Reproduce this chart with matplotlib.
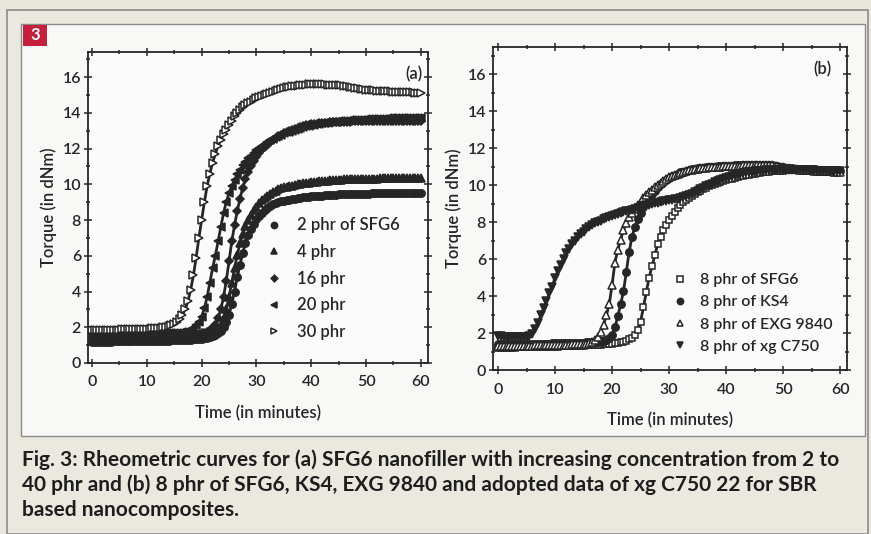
import numpy as np
import matplotlib
matplotlib.use("Agg")
import matplotlib.pyplot as plt
from matplotlib.patches import Rectangle
from matplotlib.ticker import MultipleLocator

plt.rcParams['font.family'] = ['Lato', 'DejaVu Sans']

# ---------------- data (time in minutes, torque in dNm) ----------------
time = np.arange(0, 60.01, 0.5)

# panel (a): SFG6 at increasing concentration
a_labels = ["2 phr of SFG6", "4 phr", "16 phr", "20 phr", "30 phr"]
a_2phr = [1.2,1.2,1.2,1.2,1.2,1.2,1.2,1.2,1.21,1.21,
          1.21,1.21,1.21,1.21,1.22,1.22,1.22,1.22,1.22,1.23,
          1.23,1.23,1.23,1.24,1.24,1.24,1.25,1.25,1.25,1.26,
          1.26,1.27,1.27,1.28,1.29,1.3,1.31,1.32,1.33,1.35,
          1.37,1.39,1.42,1.45,1.5,1.57,1.66,1.8,2.0,2.3,
          2.7,3.3,4.0,4.8,5.5,6.15,6.7,7.15,7.5,7.8,
          8.05,8.25,8.42,8.57,8.7,8.8,8.88,8.95,9.0,9.05,
          9.08,9.11,9.14,9.17,9.2,9.22,9.24,9.26,9.28,9.3,
          9.32,9.34,9.35,9.36,9.37,9.38,9.39,9.4,9.41,9.42,
          9.43,9.43,9.44,9.45,9.45,9.46,9.46,9.47,9.47,9.48,
          9.48,9.48,9.49,9.49,9.49,9.5,9.5,9.5,9.5,9.5,
          9.5,9.5,9.5,9.5,9.51,9.51,9.51,9.51,9.51,9.51,
          9.5]
a_4phr = [1.35,1.35,1.35,1.35,1.35,1.35,1.35,1.35,1.36,1.36,
          1.36,1.36,1.36,1.36,1.37,1.37,1.37,1.37,1.37,1.38,
          1.38,1.38,1.38,1.38,1.39,1.39,1.39,1.4,1.4,1.4,
          1.41,1.41,1.42,1.42,1.43,1.44,1.45,1.46,1.47,1.49,
          1.51,1.53,1.56,1.6,1.65,1.75,1.9,2.15,2.5,3.0,
          3.7,4.5,5.3,6.05,6.7,7.2,7.65,8.0,8.3,8.55,
          8.75,8.95,9.1,9.25,9.37,9.48,9.57,9.65,9.72,9.78,
          9.83,9.87,9.9,9.93,9.96,9.99,10.02,10.05,10.07,10.09,
          10.11,10.13,10.15,10.17,10.19,10.2,10.21,10.22,10.23,10.24,
          10.25,10.26,10.27,10.27,10.28,10.28,10.29,10.29,10.3,10.3,
          10.3,10.31,10.31,10.32,10.32,10.33,10.33,10.33,10.34,10.34,
          10.34,10.35,10.35,10.35,10.35,10.35,10.36,10.36,10.36,10.36,
          10.36]
a_16phr = [1.45,1.45,1.45,1.45,1.45,1.46,1.46,1.46,1.46,1.46,
           1.46,1.47,1.47,1.47,1.47,1.47,1.48,1.48,1.48,1.48,
           1.48,1.49,1.49,1.49,1.5,1.5,1.5,1.51,1.51,1.52,
           1.52,1.53,1.54,1.55,1.56,1.57,1.58,1.6,1.62,1.64,
           1.67,1.7,1.75,1.82,1.95,2.15,2.5,3.0,3.7,4.6,
           5.7,6.8,7.7,8.5,9.2,9.8,10.3,10.7,11.0,11.3,
           11.55,11.75,11.95,12.1,12.25,12.38,12.5,12.6,12.7,12.78,
           12.85,12.93,13.0,13.05,13.1,13.15,13.2,13.25,13.3,13.32,
           13.35,13.37,13.39,13.41,13.43,13.44,13.45,13.46,13.47,13.48,
           13.49,13.5,13.5,13.51,13.51,13.52,13.52,13.52,13.53,13.53,
           13.53,13.53,13.54,13.54,13.54,13.54,13.54,13.54,13.55,13.55,
           13.55,13.55,13.55,13.55,13.55,13.55,13.55,13.55,13.55,13.55,
           13.55]
a_20phr = [1.6,1.6,1.6,1.6,1.6,1.6,1.6,1.6,1.61,1.61,
           1.61,1.61,1.62,1.62,1.62,1.62,1.63,1.63,1.63,1.63,
           1.64,1.64,1.64,1.65,1.65,1.65,1.66,1.66,1.67,1.67,
           1.68,1.69,1.7,1.72,1.75,1.8,1.87,1.97,2.1,2.3,
           2.6,3.05,3.7,4.5,5.3,6.0,6.8,7.6,8.4,9.0,
           9.5,9.9,10.25,10.55,10.8,11.05,11.25,11.45,11.6,11.75,
           11.9,12.03,12.15,12.25,12.35,12.45,12.55,12.63,12.7,12.78,
           12.85,12.9,12.95,13.0,13.05,13.1,13.15,13.2,13.25,13.28,
           13.3,13.33,13.36,13.38,13.4,13.42,13.44,13.46,13.48,13.5,
           13.52,13.53,13.55,13.56,13.57,13.58,13.6,13.6,13.61,13.62,
           13.63,13.64,13.65,13.65,13.66,13.66,13.67,13.67,13.68,13.68,
           13.69,13.69,13.7,13.7,13.7,13.7,13.7,13.71,13.71,13.71,
           13.72]
a_30phr = [1.85,1.85,1.85,1.85,1.85,1.86,1.86,1.86,1.87,1.87,
           1.87,1.88,1.88,1.88,1.89,1.89,1.9,1.9,1.9,1.91,
           1.92,1.93,1.94,1.95,1.96,1.98,2.0,2.03,2.07,2.12,
           2.2,2.3,2.45,2.7,3.0,3.45,4.1,4.9,5.9,7.0,
           8.0,9.0,9.9,10.6,11.2,11.7,12.15,12.5,12.8,13.05,
           13.3,13.55,13.8,14.0,14.15,14.3,14.42,14.53,14.63,14.72,
           14.8,14.87,14.93,15.0,15.06,15.12,15.18,15.24,15.29,15.34,
           15.38,15.42,15.45,15.48,15.5,15.52,15.54,15.56,15.58,15.59,
           15.6,15.6,15.6,15.6,15.6,15.6,15.58,15.58,15.57,15.56,
           15.55,15.53,15.5,15.48,15.45,15.42,15.4,15.38,15.35,15.33,
           15.3,15.28,15.27,15.25,15.24,15.23,15.22,15.21,15.2,15.2,
           15.19,15.18,15.17,15.17,15.16,15.15,15.15,15.14,15.13,15.12,
           15.1]

# panel (b): 8 phr of different fillers
b_labels = ["8 phr of SFG6", "8 phr of KS4", "8 phr of EXG 9840", "8 phr of xg C750"]
b_sfg6 = [1.2,1.2,1.2,1.2,1.21,1.21,1.21,1.22,1.22,1.22,
          1.23,1.23,1.23,1.24,1.24,1.25,1.25,1.25,1.26,1.26,
          1.27,1.27,1.28,1.28,1.29,1.29,1.3,1.3,1.31,1.31,
          1.32,1.33,1.33,1.34,1.35,1.36,1.37,1.38,1.39,1.4,
          1.42,1.44,1.46,1.49,1.53,1.58,1.65,1.75,1.9,2.15,
          2.6,3.4,4.2,5.0,5.6,6.2,6.8,7.2,7.55,7.85,
          8.1,8.35,8.55,8.75,8.92,9.08,9.2,9.3,9.4,9.5,
          9.6,9.68,9.76,9.84,9.92,9.98,10.05,10.1,10.15,10.2,
          10.25,10.3,10.35,10.39,10.43,10.47,10.5,10.53,10.56,10.59,
          10.62,10.64,10.66,10.68,10.7,10.72,10.74,10.75,10.76,10.77,
          10.78,10.79,10.8,10.8,10.8,10.8,10.8,10.8,10.8,10.8,
          10.8,10.8,10.79,10.79,10.79,10.78,10.78,10.78,10.77,10.77,
          10.77]
b_ks4 = [1.4,1.4,1.4,1.4,1.4,1.4,1.41,1.41,1.41,1.41,
         1.41,1.42,1.42,1.42,1.42,1.43,1.43,1.43,1.43,1.44,
         1.44,1.44,1.45,1.45,1.45,1.46,1.46,1.47,1.47,1.48,
         1.48,1.49,1.5,1.51,1.52,1.54,1.56,1.58,1.63,1.72,
         1.9,2.3,2.9,3.55,4.25,5.3,6.4,7.2,7.75,8.15,
         8.5,8.8,9.05,9.3,9.5,9.7,9.88,10.03,10.16,10.28,
         10.38,10.47,10.55,10.62,10.68,10.73,10.78,10.82,10.85,10.88,
         10.9,10.92,10.94,10.96,10.98,10.99,11.0,11.01,11.02,11.03,
         11.04,11.05,11.05,11.06,11.06,11.07,11.07,11.08,11.08,11.08,
         11.09,11.09,11.09,11.09,11.09,11.08,11.07,11.05,11.03,11.0,
         10.97,10.94,10.92,10.9,10.88,10.86,10.84,10.83,10.82,10.81,
         10.8,10.79,10.78,10.78,10.77,10.77,10.76,10.76,10.75,10.75,
         10.75]
b_exg = [1.3,1.3,1.3,1.3,1.3,1.31,1.31,1.31,1.31,1.32,
         1.32,1.32,1.32,1.33,1.33,1.33,1.34,1.34,1.34,1.35,
         1.35,1.35,1.36,1.36,1.37,1.37,1.38,1.38,1.39,1.4,
         1.41,1.43,1.46,1.52,1.62,1.78,2.05,2.45,2.95,3.55,
         4.6,5.8,6.5,7.05,7.55,7.95,8.25,8.5,8.72,8.92,
         9.1,9.28,9.45,9.6,9.75,9.88,10.0,10.12,10.22,10.32,
         10.41,10.49,10.56,10.62,10.67,10.72,10.76,10.8,10.83,10.86,
         10.88,10.9,10.92,10.94,10.96,10.97,10.98,10.99,11.0,11.01,
         11.02,11.03,11.04,11.04,11.05,11.05,11.06,11.06,11.07,11.07,
         11.07,11.08,11.08,11.08,11.08,11.07,11.06,11.04,11.02,10.99,
         10.96,10.93,10.91,10.89,10.87,10.85,10.83,10.82,10.81,10.8,
         10.79,10.78,10.77,10.76,10.75,10.75,10.74,10.74,10.73,10.73,
         10.72]
b_xg = [1.85,1.82,1.8,1.8,1.8,1.8,1.8,1.8,1.8,1.8,
        1.8,1.85,1.95,2.2,2.55,2.95,3.35,3.75,4.15,4.5,
        5.0,5.35,5.7,6.0,6.3,6.55,6.8,7.0,7.18,7.33,
        7.47,7.6,7.72,7.82,7.92,8.0,8.08,8.15,8.21,8.27,
        8.32,8.37,8.42,8.47,8.52,8.57,8.62,8.67,8.72,8.77,
        8.82,8.86,8.9,8.94,8.98,9.02,9.05,9.08,9.11,9.14,
        9.17,9.2,9.23,9.27,9.31,9.35,9.4,9.46,9.53,9.6,
        9.68,9.76,9.85,9.93,10.01,10.08,10.15,10.22,10.28,10.34,
        10.4,10.45,10.5,10.54,10.58,10.62,10.65,10.68,10.7,10.72,
        10.74,10.76,10.77,10.78,10.79,10.8,10.8,10.81,10.81,10.81,
        10.81,10.81,10.81,10.81,10.8,10.8,10.8,10.8,10.8,10.79,
        10.79,10.79,10.78,10.78,10.78,10.77,10.77,10.77,10.76,10.76,
        10.76]

x_ticks = [0, 10, 20, 30, 40, 50, 60]
y_ticks = [0, 2, 4, 6, 8, 10, 12, 14, 16]

caption = ["Fig. 3: Rheometric curves for (a) SFG6 nanofiller with increasing concentration from 2 to",
           "40 phr and (b) 8 phr of SFG6, KS4, EXG 9840 and adopted data of xg C750 22 for SBR",
           "based nanocomposites."]

# ---------------- figure ----------------
W, H = 871, 534
fig = plt.figure(figsize=(W / 100, H / 100), dpi=100)
fig.patch.set_facecolor('#e9e6de')

def px(x, y, w, h):
    return [x / W, 1 - (y + h) / H, w / W, h / H]

# outer border and inner white panel (behind the axes)
fig.add_artist(Rectangle((7 / W, 0), (868 - 7) / W, 1 - 10 / H, transform=fig.transFigure,
                         facecolor='#ebe8e0', edgecolor='#8c8c8c', lw=1.2, zorder=-3))
fig.add_artist(Rectangle((21 / W, 1 - 436 / H), (865 - 21) / W, (436 - 24) / H,
                         transform=fig.transFigure, facecolor='#f8f8f7',
                         edgecolor='#8a8a8a', lw=1.0, zorder=-2))
fig.add_artist(Rectangle((23 / W, 1 - 46 / H), 24 / W, 21 / H, transform=fig.transFigure,
                         facecolor='#c41f3b', edgecolor='none', zorder=-1))
fig.text(35 / W, 1 - 35.5 / H, "3", color='white', fontsize=12, fontweight='bold',
         ha='center', va='center')

ink = '#262626'
tw = 'semibold'

def style_axes(ax, xl, yl):
    ax.set_facecolor('#fbfbfb')
    ax.set_xlim(*xl)
    ax.set_ylim(*yl)
    ax.set_xticks(x_ticks)
    ax.set_yticks(y_ticks)
    ax.xaxis.set_minor_locator(MultipleLocator(5))
    ax.yaxis.set_minor_locator(MultipleLocator(1))
    for s in ax.spines.values():
        s.set_linewidth(1.3)
        s.set_color(ink)
    ax.tick_params(which='both', direction='inout', top=True, right=True,
                   colors=ink, labelsize=11.5, width=1.1)
    ax.tick_params(axis='x', which='major', pad=6)
    ax.tick_params(axis='y', which='major', pad=2)
    ax.tick_params(which='major', length=6)
    ax.tick_params(which='minor', length=3.5)
    for lbl in ax.get_xticklabels() + ax.get_yticklabels():
        lbl.set_fontweight(tw)
    ax.set_xlabel("Time (in minutes)", fontsize=12, color=ink, labelpad=11, fontweight=tw)
    ax.set_ylabel("Torque (in dNm)", fontsize=12, color=ink, labelpad=4, fontweight=tw)

ms = 5.3
lw = 2.0
# ---- panel (a)
axa = fig.add_axes(px(88, 52, 340, 311))
style_axes(axa, (-0.73, 61.3), (0, 17.4))
a_series = [a_2phr, a_4phr, a_16phr, a_20phr, a_30phr]
a_markers = [dict(marker='o', mfc=ink), dict(marker='^', mfc=ink),
             dict(marker='D', mfc=ink, ms=4.0), dict(marker='<', mfc=ink),
             dict(marker='>', mfc='white')]
for lab, ys, mk in zip(a_labels, a_series, a_markers):
    kw = dict(ms=ms, mec=ink, mew=1.1, color=ink, lw=lw)
    kw.update(mk)
    axa.plot(time, ys, label=lab, **kw)
leg = axa.legend(loc='upper left', bbox_to_anchor=(0.522, 0.468), frameon=False,
                 fontsize=12, handlelength=1.0, handletextpad=0.9, labelspacing=0.64,
                 borderpad=0, borderaxespad=0, markerscale=0.85)
for h in leg.legend_handles:
    h.set_linestyle('none')
for t in leg.get_texts():
    t.set_color(ink)
    t.set_fontweight(tw)
axa.text(0.985, 0.955, "(a)", transform=axa.transAxes, ha='right', va='top',
         fontsize=12, color=ink, fontweight=tw)

# ---- panel (b)
axb = fig.add_axes(px(493, 47, 354, 323))
style_axes(axb, (-0.88, 61.2), (0, 17.46))
b_series = [b_sfg6, b_ks4, b_exg, b_xg]
b_markers = [dict(marker='s', mfc='white', ms=4.6), dict(marker='o', mfc=ink),
             dict(marker='^', mfc='white'), dict(marker='v', mfc=ink)]
for lab, ys, mk in zip(b_labels, b_series, b_markers):
    kw = dict(ms=ms, mec=ink, mew=1.1, color=ink, lw=lw)
    kw.update(mk)
    axb.plot(time, ys, label=lab, **kw)
leg = axb.legend(loc='upper left', bbox_to_anchor=(0.506, 0.3), frameon=False,
                 fontsize=11.5, handlelength=1.0, handletextpad=0.75, labelspacing=0.5,
                 borderpad=0, borderaxespad=0, markerscale=0.85)
for h in leg.legend_handles:
    h.set_linestyle('none')
for t in leg.get_texts():
    t.set_color(ink)
    t.set_fontweight(tw)
axb.text(0.955, 0.955, "(b)", transform=axb.transAxes, ha='right', va='top',
         fontsize=12, color=ink, fontweight=tw)

# ---- caption
for i, line in enumerate(caption):
    fig.text(22 / W, 1 - (460 + 25 * i) / H, line, fontsize=15, fontweight='bold',
             color='#1e1e1e', ha='left', va='center')

fig.savefig("out.png", dpi=100, facecolor=fig.get_facecolor())
